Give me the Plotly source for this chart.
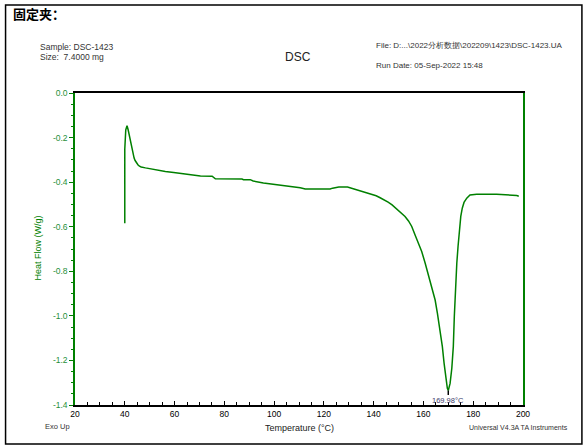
import plotly.graph_objects as go

# DSC curve
temp = [40.0, 40.0, 40.4, 40.9, 41.35, 41.75, 42.15, 42.55, 42.95, 43.35, 43.75, 44.15,
        44.55, 44.95, 45.35, 45.9, 46.6, 48.3, 50.3, 51.9, 54.3, 56.3, 59.65, 63.65,
        67.0, 70.4, 75.1, 75.7, 76.4, 87.1, 87.7, 90.4, 91.6, 95.7, 99.7, 103.7,
        107.7, 110.5, 112.5, 122.5, 123.5, 126.0, 129.5, 131.0, 133.0, 135.4, 137.4,
        139.4, 141.0, 142.6, 144.2, 145.8, 147.4, 149.0, 150.6, 152.6, 154.0, 155.3,
        156.6, 158.0, 159.3, 160.7, 162.0, 163.4, 164.7, 165.6, 166.7, 167.6, 168.3,
        169.0, 169.6, 169.98, 170.7, 171.4, 172.0, 172.4, 173.0, 173.4, 173.9, 174.3,
        175.0, 175.6, 176.3, 177.4, 178.7, 181.4, 189.4, 197.5, 198.3]
heat_flow = [-0.584, -0.252, -0.165, -0.147, -0.165, -0.187, -0.214, -0.240, -0.259, -0.273,
             -0.292, -0.303, -0.312, -0.318, -0.323, -0.328, -0.332, -0.336, -0.340, -0.345,
             -0.348, -0.352, -0.357, -0.363, -0.367, -0.372, -0.373, -0.379, -0.385, -0.386,
             -0.389, -0.389, -0.395, -0.404, -0.409, -0.415, -0.420, -0.425, -0.431, -0.431,
             -0.427, -0.422, -0.422, -0.427, -0.433, -0.442, -0.448, -0.454, -0.461, -0.470,
             -0.479, -0.490, -0.502, -0.518, -0.532, -0.554, -0.574, -0.599, -0.636, -0.674,
             -0.711, -0.764, -0.816, -0.869, -0.929, -0.988, -1.063, -1.138, -1.213, -1.288,
             -1.325, -1.335, -1.303, -1.235, -1.138, -1.004, -0.839, -0.764, -0.689, -0.629,
             -0.554, -0.517, -0.491, -0.472, -0.458, -0.454, -0.454, -0.460, -0.463]

peak_temp = 169.98
peak_flow = [-1.335, -1.355]
peak_label = "169.98°C"

y_ticks = [0.0, -0.2, -0.4, -0.6, -0.8, -1.0, -1.2, -1.4]
y_tick_labels = ["0.0", "-0.2", "-0.4", "-0.6", "-0.8", "-1.0", "-1.2", "-1.4"]

GREEN = "#008000"
FONT = "Arial, Liberation Sans, sans-serif"

fig = go.Figure()
fig.add_trace(go.Scatter(x=temp, y=heat_flow, mode="lines",
                         line=dict(color=GREEN, width=1.5), hoverinfo="skip"))
# peak marker
fig.add_trace(go.Scatter(x=[peak_temp, peak_temp], y=peak_flow, mode="lines",
                         line=dict(color="black", width=1.5), hoverinfo="skip"))
fig.add_annotation(x=peak_temp, y=-1.4, text=peak_label, showarrow=False,
                   yanchor="bottom", yshift=-1.5,
                   font=dict(family=FONT, size=7.5, color="#3a3a6a"))

fig.update_layout(
    width=587, height=447, showlegend=False,
    plot_bgcolor="white", paper_bgcolor="white",
    margin=dict(l=74.5, r=64, t=93, b=42),
    font=dict(family=FONT),
)
fig.update_xaxes(range=[20, 200], dtick=20, tick0=20, showgrid=False, zeroline=False,
                 showline=True, linecolor="black", linewidth=1.5, mirror=True,
                 ticks="inside", ticklen=4, tickcolor="black",
                 tickfont=dict(size=8.5, color="black"),
                 minor=dict(tickmode="linear", tick0=20, dtick=5, ticks="inside",
                            ticklen=3, tickcolor="black"))
fig.update_yaxes(range=[-1.4, 0], tickmode="array", tickvals=y_ticks, ticktext=y_tick_labels,
                 showgrid=False, zeroline=False,
                 showline=True, linecolor=GREEN, linewidth=1.5, mirror=True,
                 ticks="outside", ticklen=4, tickcolor=GREEN,
                 tickfont=dict(size=8.5, color="#1f8f3a"),
                 minor=dict(tickmode="linear", tick0=0, dtick=0.05, ticks="outside",
                            ticklen=2, tickcolor=GREEN))

# outer frame
fig.add_shape(type="rect", xref="paper", yref="paper", x0=-0.155, x1=1.1315,
              y0=-0.125, y1=1.282, line=dict(color="black", width=1.5), layer="below")

def note(text, x, y, size=8, color="#333333", xanchor="left", family=FONT, **kw):
    fig.add_annotation(xref="paper", yref="paper", x=x, y=y, text=text, showarrow=False,
                       xanchor=xanchor, yanchor="middle",
                       font=dict(family=family, size=size, color=color), **kw)

note("<b>固定夹：</b>", -0.142, 1.256, size=13, color="black",
     family="Noto Sans CJK SC, sans-serif")
note("Sample: DSC-1423", -0.0836, 1.147, size=8.5)
note("Size:  7.4000 mg", -0.0836, 1.115, size=8.5)
note("DSC", 0.498, 1.115, size=12, color="#222222", xanchor="center")
note("File: D:...\\2022分析数据\\202209\\1423\\DSC-1423.UA", 0.6678, 1.151, size=8)
note("Run Date: 05-Sep-2022 15:48", 0.6678, 1.087, size=8)
note("Heat Flow (W/g)", -0.0814, 0.503, size=9, color=GREEN, xanchor="center", textangle=-90)
note("Temperature (°C)", 0.5, -0.0737, size=9, color="#222222", xanchor="center")
note("Exo Up", -0.0725, -0.0705, size=7.5)
note("Universal V4.3A TA Instruments", 0.875, -0.0727, size=7)

fig.write_html("out.html", config={"displayModeBar": False},
               post_script="document.body.style.margin='0';")
